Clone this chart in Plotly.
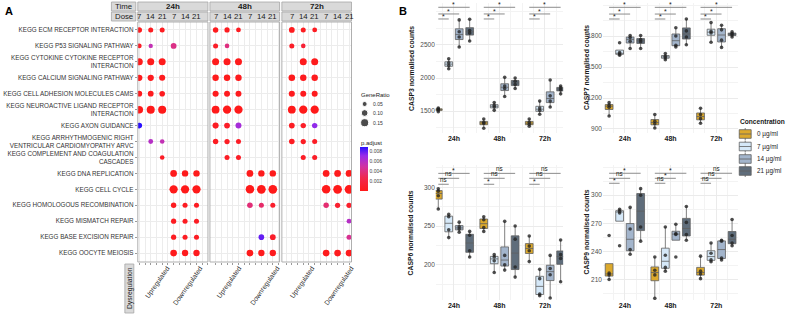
import numpy as np
import plotly.graph_objects as go

W, H = 790, 314
FONT = "Liberation Sans, Arial, Helvetica, sans-serif"
N = None

# ======================= Panel A data =======================
pathways = [
    "KEGG ECM RECEPTOR INTERACTION",
    "KEGG P53 SIGNALING PATHWAY",
    "KEGG CYTOKINE CYTOKINE RECEPTOR<br>INTERACTION",
    "KEGG CALCIUM SIGNALING PATHWAY",
    "KEGG CELL ADHESION MOLECULES CAMS",
    "KEGG NEUROACTIVE LIGAND RECEPTOR<br>INTERACTION",
    "KEGG AXON GUIDANCE",
    "KEGG ARRHYTHMOGENIC RIGHT<br>VENTRICULAR CARDIOMYOPATHY ARVC",
    "KEGG COMPLEMENT AND COAGULATION<br>CASCADES",
    "KEGG DNA REPLICATION",
    "KEGG CELL CYCLE",
    "KEGG HOMOLOGOUS RECOMBINATION",
    "KEGG MISMATCH REPAIR",
    "KEGG BASE EXCISION REPAIR",
    "KEGG OOCYTE MEIOSIS",
]
time_labels = ["24h", "48h", "72h"]
dose_labels = ["7", "14", "21", "7", "14", "21"]
dysreg_labels = ["Upregulated", "Downregulated"]

# columns: Up7, Up14, Up21, Down7, Down14, Down21
gr_24h = [
    [0.06, 0.05, 0.05, N, N, N],
    [0.045, 0.035, N, 0.07, N, N],
    [0.11, 0.11, 0.11, N, N, N],
    [0.085, 0.085, 0.08, N, N, N],
    [0.07, 0.07, 0.065, N, N, N],
    [0.13, 0.15, 0.15, N, N, N],
    [0.065, N, N, N, N, N],
    [N, 0.045, 0.04, N, N, N],
    [N, N, 0.04, N, N, N],
    [N, N, N, 0.10, 0.09, 0.09],
    [N, N, N, 0.16, 0.16, 0.16],
    [N, N, N, 0.06, 0.05, 0.05],
    [N, N, N, 0.055, 0.05, 0.05],
    [N, N, N, 0.055, 0.05, 0.05],
    [N, N, N, 0.10, 0.09, 0.09],
]
padj_24h = [
    [0.0003, 0.0004, 0.0004, N, N, N],
    [0.0008, 0.0055, N, 0.0042, N, N],
    [0.0002, 0.0002, 0.0002, N, N, N],
    [0.0002, 0.0003, 0.0003, N, N, N],
    [0.0003, 0.0003, 0.0004, N, N, N],
    [0.0001, 0.0001, 0.0001, N, N, N],
    [0.0088, N, N, N, N, N],
    [N, 0.0060, 0.0055, N, N, N],
    [N, N, 0.0007, N, N, N],
    [N, N, N, 0.0002, 0.0002, 0.0002],
    [N, N, N, 0.0001, 0.0001, 0.0001],
    [N, N, N, 0.0004, 0.0005, 0.0005],
    [N, N, N, 0.0005, 0.0005, 0.0006],
    [N, N, N, 0.0005, 0.0006, 0.0006],
    [N, N, N, 0.0002, 0.0003, 0.0003],
]
gr_48h = [
    [0.06, 0.055, 0.045, N, N, N],
    [0.05, 0.04, N, N, N, N],
    [0.11, 0.11, 0.11, N, N, N],
    [0.09, 0.09, 0.09, N, N, N],
    [0.08, 0.075, 0.075, N, N, N],
    [0.14, 0.16, 0.16, N, N, N],
    [0.08, 0.07, 0.075, N, N, N],
    [0.06, 0.055, 0.05, N, N, N],
    [N, 0.05, 0.05, N, N, N],
    [N, N, N, 0.10, 0.09, 0.09],
    [N, N, N, 0.17, 0.18, 0.18],
    [N, N, N, 0.065, 0.05, 0.05],
    [N, N, N, N, N, N],
    [N, N, N, N, 0.065, 0.07],
    [N, N, N, 0.10, 0.09, 0.09],
]
padj_48h = [
    [0.0003, 0.0004, 0.0005, N, N, N],
    [0.0008, 0.0040, N, N, N, N],
    [0.0002, 0.0002, 0.0002, N, N, N],
    [0.0002, 0.0002, 0.0003, N, N, N],
    [0.0003, 0.0003, 0.0003, N, N, N],
    [0.0001, 0.0001, 0.0001, N, N, N],
    [0.0006, 0.0008, 0.0066, N, N, N],
    [0.0005, 0.0006, 0.0007, N, N, N],
    [N, 0.0007, 0.0008, N, N, N],
    [N, N, N, 0.0002, 0.0002, 0.0002],
    [N, N, N, 0.0001, 0.0001, 0.0001],
    [N, N, N, 0.0038, 0.0034, 0.0010],
    [N, N, N, N, N, N],
    [N, N, N, N, 0.0079, 0.0009],
    [N, N, N, 0.0002, 0.0003, 0.0003],
]
gr_72h = [
    [0.07, 0.05, 0.045, N, N, N],
    [0.05, 0.04, N, N, N, N],
    [N, 0.11, 0.11, N, N, N],
    [0.095, 0.09, 0.09, N, N, N],
    [0.08, 0.075, 0.075, N, N, N],
    [0.14, 0.16, 0.16, N, N, N],
    [0.07, 0.06, 0.06, N, N, N],
    [0.065, 0.055, 0.05, N, N, N],
    [N, 0.05, 0.05, N, N, N],
    [N, N, N, 0.10, 0.10, 0.10],
    [N, N, N, 0.17, 0.18, 0.18],
    [N, N, N, 0.06, 0.055, 0.055],
    [N, N, N, N, N, 0.045],
    [N, N, N, N, N, 0.05],
    [N, N, N, 0.10, 0.10, 0.10],
]
padj_72h = [
    [0.0003, 0.0004, 0.0005, N, N, N],
    [0.0008, 0.0015, N, N, N, N],
    [N, 0.0002, 0.0002, N, N, N],
    [0.0002, 0.0003, 0.0003, N, N, N],
    [0.0003, 0.0003, 0.0003, N, N, N],
    [0.0001, 0.0001, 0.0001, N, N, N],
    [0.0006, 0.0008, 0.0072, N, N, N],
    [0.0005, 0.0006, 0.0007, N, N, N],
    [N, 0.0007, 0.0008, N, N, N],
    [N, N, N, 0.0002, 0.0002, 0.0002],
    [N, N, N, 0.0001, 0.0001, 0.0001],
    [N, N, N, 0.0036, 0.0012, 0.0010],
    [N, N, N, N, N, 0.0060],
    [N, N, N, N, N, 0.0045],
    [N, N, N, 0.0002, 0.0003, 0.0003],
]
generatio_legend = [0.05, 0.10, 0.15]
padj_ticks = [0.002, 0.004, 0.006, 0.008]
padj_range = [0.0001, 0.0088]

# ======================= Panel B data =======================
groups = ["24h", "48h", "72h"]
concentrations = ["0 µg/ml", "7 µg/ml", "14 µg/ml", "21 µg/ml"]

casp3_c0 = [[1490, 1515, 1530, 1545], [1240, 1310, 1330, 1380], [1270, 1300, 1330, 1380]]
casp3_c7 = [[2140, 2190, 2230, 2290], [1510, 1560, 1585, 1630], [1450, 1510, 1545, 1650]]
casp3_c14 = [[2470, 2620, 2700, 2880], [1720, 1840, 1880, 2010], [1560, 1650, 1730, 1970]]
casp3_c21 = [[2560, 2680, 2720, 2890], [1840, 1900, 1950, 2000], [1760, 1820, 1850, 1880]]

casp7_c0 = [[1025, 1110, 1130, 1155], [910, 950, 975, 1040], [955, 1000, 1040, 1100]]
casp7_c7 = [[1615, 1625, 1640, 1735], [1570, 1590, 1605, 1630], [1740, 1830, 1845, 1930]]
casp7_c14 = [[1680, 1750, 1785, 1805], [1695, 1710, 1800, 1880], [1690, 1760, 1860, 1905]]
casp7_c21 = [[1680, 1745, 1765, 1805], [1715, 1790, 1850, 1965], [1790, 1810, 1825, 1840]]

casp6_c0 = [[272, 289, 295, 298], [243, 248, 258, 262], [204, 218, 224, 237]]
casp6_c7 = [[235, 245, 262, 265], [190, 205, 210, 213], [160, 162, 182, 194]]
casp6_c14 = [[242, 246, 249, 255], [193, 200, 212, 256], [157, 187, 195, 212]]
casp6_c21 = [[210, 218, 238, 243], [184, 197, 233, 250], [178, 208, 213, 232]]

casp9_c0 = [[210, 215, 217, 257], [190, 215, 220, 234], [211, 216, 219, 235]]
casp9_c7 = [[246, 281, 283, 285], [219, 223, 236, 266], [229, 231, 238, 249]]
casp9_c14 = [[237, 242, 264, 287], [234, 258, 259, 269], [231, 233, 251, 252]]
casp9_c21 = [[251, 266, 300, 307], [252, 258, 271, 288], [246, 249, 257, 274]]

# significance per time group: [0 vs 7, 0 vs 14, 0 vs 21]
sig_casp3 = [["*", "*", "*"], ["*", "*", "*"], ["*", "*", "*"]]
sig_casp7 = [["*", "*", "*"], ["*", "*", "*"], ["*", "*", "*"]]
sig_casp6 = [["ns", "ns", "*"], ["*", "ns", "ns"], ["*", "ns", "ns"]]
sig_casp9 = [["*", "ns", "*"], ["ns", "*", "*"], ["ns", "ns", "ns"]]

casp3_ticks = [1500, 2000, 2500]
casp7_ticks = [900, 1200, 1500, 1800]
casp6_ticks = [200, 250, 300]
casp9_ticks = [210, 240, 270, 300]

# ======================= Styles / layout =======================
conc_colors = ["#DCA92C", "#D5E8F8", "#A3B5CC", "#5F6D7B"]
box_line = "#5f5f5f"
colorscale = [[0.0, "#FF1A1A"], [0.3, "#F0284E"], [0.55, "#D233A0"],
              [0.8, "#9A2CE8"], [1.0, "#2A10FF"]]


def pxx(v):
    return v / W


def pyy(v):
    return 1 - v / H


fig = go.Figure()
axes = {}
shapes = []
annots = []


def ann(text, x, y, size=7, color="#1a1a1a", xanchor="center", yanchor="middle",
        angle=0, xref="x9", yref="y9", **kw):
    annots.append(dict(text=text, x=x, y=y, xref=xref, yref=yref, showarrow=False,
                       font=dict(size=size, color=color, family=FONT),
                       xanchor=xanchor, yanchor=yanchor, textangle=angle, **kw))


def rect(x0, y0, x1, y1, fill="rgba(0,0,0,0)", line="#a0a0a0", lw=0.8, layer="above"):
    shapes.append(dict(type="rect", xref="x9", yref="y9", x0=x0, y0=y0, x1=x1, y1=y1,
                       fillcolor=fill, line=dict(color=line, width=lw), layer=layer))


# ---------------- Panel A ----------------
A_left = [138.5, 211.0, 283.3]
A_right = [209.0, 281.0, 353.3]
A_top, A_bot = 22.0, 262.0
A_first = [140.0, 216.7, 293.3]
col_step = 11.5
up_end = [168.0, 240.0, 313.5]
down_end = [201.0, 278.5, 353.0]
gr_all = [gr_24h, gr_48h, gr_72h]
padj_all = [padj_24h, padj_48h, padj_72h]


def dot_size(g):
    return 0.9 + 18.4 * np.sqrt(g)


for i in range(3):
    xa = "x" if i == 0 else f"x{i + 1}"
    xs, ys, ss, cs = [], [], [], []
    for r, name in enumerate(pathways):
        for c in range(6):
            g = gr_all[i][r][c]
            if g is None:
                continue
            xs.append(c + 1)
            ys.append(name)
            ss.append(dot_size(g))
            cs.append(padj_all[i][r][c])
    fig.add_trace(go.Scatter(x=xs, y=ys, mode="markers", xaxis=xa, yaxis="y",
                             marker=dict(size=ss, color=cs, coloraxis="coloraxis",
                                         line=dict(width=0), opacity=1),
                             hoverinfo="skip", showlegend=False))
    r0 = 1 - (A_first[i] - A_left[i]) / col_step
    r1 = r0 + (A_right[i] - A_left[i]) / col_step
    tv = [r0 + (up_end[i] - A_left[i]) / col_step, r0 + (down_end[i] - A_left[i]) / col_step]
    key = "xaxis" if i == 0 else f"xaxis{i + 1}"
    axes[key] = dict(domain=[pxx(A_left[i]), pxx(A_right[i])], range=[r0, r1], anchor="y",
                     tickmode="array", tickvals=tv, ticktext=dysreg_labels, tickangle=-55,
                     tickfont=dict(size=6.8, color="#333333"), showgrid=False, zeroline=False,
                     ticks="", showline=False,
                     minor=dict(tickmode="linear", tick0=0.5, dtick=0.5, showgrid=True,
                                gridcolor="#ececec", gridwidth=0.6, ticks="outside",
                                ticklen=2, tickcolor="#9a9a9a"))
    # panel border
    rect(A_left[i], A_top, A_right[i], A_bot, line="#a6a6a6", lw=0.9)
    # strips
    rect(A_left[i], 2, A_right[i], 11, fill="#d9d9d9", line="#a6a6a6", lw=0.8, layer="below")
    rect(A_left[i], 12, A_right[i], 21, fill="#d9d9d9", line="#a6a6a6", lw=0.8, layer="below")
    ann(f"<b>{time_labels[i]}</b>", (A_left[i] + A_right[i]) / 2, 6.7, size=8)
    for c in range(6):
        ann(dose_labels[c], c + 1, 16.8, size=7.8, xref=xa)

axes["yaxis"] = dict(domain=[pyy(A_bot), pyy(A_top)], type="category",
                     categoryorder="array", categoryarray=pathways,
                     range=[len(pathways) - 1 + 0.56, -0.5], anchor="x",
                     tickfont=dict(size=6.3, color="#333333"), ticks="outside", ticklen=2,
                     tickcolor="#9a9a9a", showgrid=True, gridcolor="#ececec", gridwidth=0.6,
                     zeroline=False, showline=False)

rect(112, 2, 136.5, 11, fill="#d9d9d9", line="#a6a6a6", lw=0.8, layer="below")
rect(112, 12, 136.5, 21, fill="#d9d9d9", line="#a6a6a6", lw=0.8, layer="below")
ann("Time", 124.2, 6.7, size=7.8)
ann("Dose", 124.2, 16.8, size=7.8)
rect(125.5, 264, 134.5, 313, fill="#d9d9d9", line="#a6a6a6", lw=0.8, layer="below")
ann("Dysregulation", 130.2, 288.5, size=6.8, angle=-90)

ann("<b>A</b>", 3, 3, size=11, color="#000", xanchor="left", yanchor="top")
ann("<b>B</b>", 399, 3, size=11, color="#000", xanchor="left", yanchor="top")

# GeneRatio legend
ann("GeneRatio", 361, 95, size=6, color="#222", xanchor="left")
fig.add_trace(go.Scatter(x=[366.5] * 3, y=[104, 113, 122.7], mode="markers",
                         marker=dict(size=[dot_size(g) for g in generatio_legend], color="#000"),
                         xaxis="x9", yaxis="y9", hoverinfo="skip", showlegend=False,
                         cliponaxis=False))
for g, yy in zip(generatio_legend, [104, 113, 122.7]):
    ann(f"{g:.2f}", 373, yy, size=5, color="#333", xanchor="left")
ann("p.adjust", 361, 143, size=6, color="#222", xanchor="left")

# ---------------- Panel B ----------------
offs = [-0.345, -0.115, 0.115, 0.345]
panels = [
    dict(gene="CASP3", data=[casp3_c0, casp3_c7, casp3_c14, casp3_c21], sig=sig_casp3,
         xd=(438, 566), xr=(0.6, 3.4), yd=(3, 133), yr=(1167, 3136), yt=casp3_ticks,
         minor=250, bars=(2894, 2970, 3071), tx=413),
    dict(gene="CASP7", data=[casp7_c0, casp7_c7, casp7_c14, casp7_c21], sig=sig_casp7,
         xd=(606, 742), xr=(0.52, 3.48), yd=(3, 133), yr=(861, 2120), yt=casp7_ticks,
         minor=150, bars=(1965, 2013, 2078), tx=589),
    dict(gene="CASP6", data=[casp6_c0, casp6_c7, casp6_c14, casp6_c21], sig=sig_casp6,
         xd=(438, 566), xr=(0.6, 3.4), yd=(165, 300), yr=(154.4, 328.8), yt=casp6_ticks,
         minor=25, bars=(303.9, 311.6, 318.0), tx=413),
    dict(gene="CASP9", data=[casp9_c0, casp9_c7, casp9_c14, casp9_c21], sig=sig_casp9,
         xd=(606, 742), xr=(0.52, 3.48), yd=(165, 300), yr=(188.2, 332.2), yt=casp9_ticks,
         minor=15, bars=(312.7, 318.0, 323.4), tx=589),
]

for p, P in enumerate(panels):
    xa, ya = f"x{5 + p}", f"y{5 + p}"
    for c in range(4):
        xs, q1, med, q3, lf, uf, ptx, pty = [], [], [], [], [], [], [], []
        for g in range(3):
            vals = np.array(P["data"][c][g], dtype=float)
            a, m, b = np.percentile(vals, [25, 50, 75])
            iqr = b - a
            lo = vals[vals >= a - 1.5 * iqr].min()
            hi = vals[vals <= b + 1.5 * iqr].max()
            xpos = g + 1 + offs[c]
            xs.append(xpos)
            q1.append(a)
            med.append(m)
            q3.append(b)
            lf.append(lo)
            uf.append(hi)
            ptx += [xpos] * len(vals)
            pty += list(vals)
        fig.add_trace(go.Box(x=xs, q1=q1, median=med, q3=q3, lowerfence=lf, upperfence=uf,
                             width=0.17, fillcolor=conc_colors[c],
                             line=dict(color=box_line, width=0.8), whiskerwidth=0,
                             boxpoints=False, xaxis=xa, yaxis=ya, hoverinfo="skip",
                             showlegend=False))
        fig.add_trace(go.Scatter(x=ptx, y=pty, mode="markers", xaxis=xa, yaxis=ya,
                                 marker=dict(size=3.6, color="rgba(35,35,35,0.8)"),
                                 hoverinfo="skip", showlegend=False))
    # significance brackets
    for g in range(3):
        for k in range(3):
            x0 = g + 1 + offs[0]
            x1 = g + 1 + offs[k + 1]
            yb = P["bars"][k]
            shapes.append(dict(type="line", xref=xa, yref=ya, x0=x0, x1=x1, y0=yb, y1=yb,
                               line=dict(color="#8c8c8c", width=1), layer="above"))
            txt = P["sig"][g][k]
            annots.append(dict(text=txt, x=(x0 + x1) / 2, y=yb, xref=xa, yref=ya,
                               showarrow=False, xanchor="center", yanchor="bottom",
                               yshift=(-3 if txt == "*" else -0.5),
                               font=dict(size=7 if txt == "*" else 6.3, color="#1a1a1a",
                                         family=FONT)))
    axes[f"xaxis{5 + p}"] = dict(domain=[pxx(P["xd"][0]), pxx(P["xd"][1])], range=list(P["xr"]),
                                anchor=ya, tickmode="array", tickvals=[1, 2, 3],
                                ticktext=[f"<b>{t}</b>" for t in groups],
                                tickfont=dict(size=7, color="#1a1a1a"), showgrid=True,
                                gridcolor="#ebebeb", gridwidth=0.6, zeroline=False, ticks="",
                                showline=False,
                                minor=dict(tickmode="linear", tick0=0, dtick=0.25, showgrid=True,
                                           gridcolor="#f3f3f3", gridwidth=0.5))
    axes[f"yaxis{5 + p}"] = dict(domain=[pyy(P["yd"][1]), pyy(P["yd"][0])], range=list(P["yr"]),
                                anchor=xa, tickmode="array", tickvals=P["yt"],
                                tickfont=dict(size=6.5, color="#4d4d4d"), showgrid=True,
                                gridcolor="#ebebeb", gridwidth=0.6, zeroline=False, ticks="",
                                showline=False,
                                minor=dict(tickmode="linear", tick0=P["yt"][0], dtick=P["minor"],
                                           showgrid=True, gridcolor="#f3f3f3", gridwidth=0.5))
    ann(f"<b>{P['gene']} normalised counts</b>", P["tx"], (P["yd"][0] + P["yd"][1]) / 2,
        size=6.8, angle=-90)

# Concentration legend (drawn manually)
ann("<b>Concentration</b>", 742, 121, size=6.6, xanchor="left")
leg_y = [134.0, 146.5, 159.0, 171.0]
for c, cy in enumerate(leg_y):
    shapes.append(dict(type="line", xref="x9", yref="y9", x0=749, x1=749, y0=cy - 6, y1=cy + 6,
                       line=dict(color=box_line, width=0.8), layer="above"))
    rect(743, cy - 4.3, 755, cy + 4.3, fill=conc_colors[c], line=box_line, lw=0.8)
    shapes.append(dict(type="line", xref="x9", yref="y9", x0=743, x1=755, y0=cy, y1=cy,
                       line=dict(color=box_line, width=0.8), layer="above"))
    ann(concentrations[c], 759, cy, size=6.3, color="#1a1a1a", xanchor="left")
fig.add_trace(go.Scatter(x=[749] * 4, y=leg_y, mode="markers", xaxis="x9", yaxis="y9",
                         marker=dict(size=4, color="rgba(25,25,25,0.9)"), hoverinfo="skip",
                         showlegend=False, cliponaxis=False))

axes["xaxis9"] = dict(domain=[0, 1], range=[0, W], visible=False, anchor="y9", fixedrange=True)
axes["yaxis9"] = dict(domain=[0, 1], range=[H, 0], visible=False, anchor="x9", fixedrange=True)

fig.update_layout(
    width=W, height=H, margin=dict(l=0, r=0, t=0, b=0),
    paper_bgcolor="white", plot_bgcolor="rgba(0,0,0,0)",
    font=dict(family=FONT, size=7, color="#1a1a1a"),
    showlegend=False,
    coloraxis=dict(colorscale=colorscale, cmin=padj_range[0], cmax=padj_range[1],
                   colorbar=dict(x=pxx(362), xanchor="left", y=pyy(147), yanchor="top",
                                 len=44 / H, lenmode="fraction", thickness=8,
                                 thicknessmode="pixels", outlinewidth=0, xpad=0, ypad=0,
                                 tickmode="array", tickvals=padj_ticks,
                                 ticktext=[f"{v:.3f}" for v in padj_ticks], ticks="",
                                 tickfont=dict(size=5, color="#444", family=FONT))),
    shapes=shapes, annotations=annots,
    **axes,
)

fig.write_html("out.html", config={"displayModeBar": False},
               post_script="document.body.style.margin='0px';document.body.style.overflow='hidden';")
